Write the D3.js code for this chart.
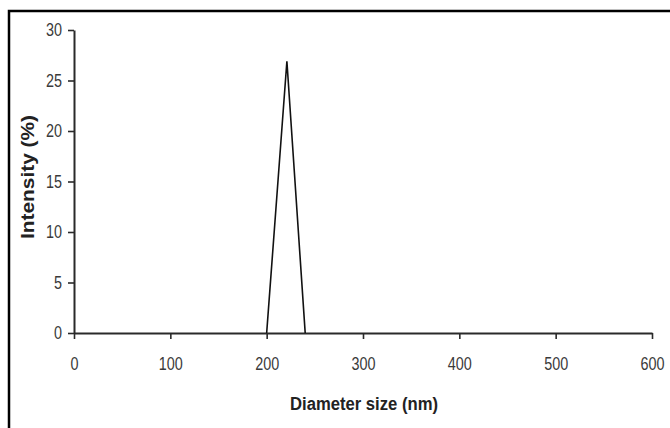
<!DOCTYPE html>
<html><head><meta charset="utf-8">
<script src="https://cdn.jsdelivr.net/npm/d3@7"></script>
<style>body{margin:0;background:#fff}svg{display:block}</style>
</head><body>
<svg id="c" width="670" height="428"></svg>
<script>
const diameter = [200, 221, 240];
const intensity = [0, 26.9, 0];
const xTicks = [0, 100, 200, 300, 400, 500, 600];
const yTicks = [0, 5, 10, 15, 20, 25, 30];
const xTitle = "Diameter size (nm)";
const yTitle = "Intensity (%)";

const svg = d3.select("#c");
const x = d3.scaleLinear().domain([0, 600]).range([74, 652]);
const y = d3.scaleLinear().domain([0, 30]).range([333, 30]);
const font = "'Liberation Sans', Arial, sans-serif";
const ink = "#2a2a2a";

// frame (left and top edges)
svg.append("path").attr("d", "M9,428 V11 H670").attr("fill", "none")
  .attr("stroke", "#000").attr("stroke-width", 2.5);

const xa = svg.append("g").attr("transform", "translate(0,333)")
  .call(d3.axisBottom(x).tickValues(xTicks).tickSize(6).tickPadding(18).tickSizeOuter(0));
const ya = svg.append("g").attr("transform", "translate(74,0)")
  .call(d3.axisLeft(y).tickValues(yTicks).tickSize(6).tickPadding(6).tickSizeOuter(0));
[xa, ya].forEach(g => {
  g.attr("font-size", null);
  g.select(".domain").attr("stroke", ink).attr("stroke-width", 2);
  g.selectAll(".tick line").attr("stroke", ink).attr("stroke-width", 1.6);
  g.selectAll(".tick text").attr("fill", "#3a3a3a").attr("font-family", font)
    .style("font-size", "18px");
  g.selectAll(".tick text").each(function(){
    const t = d3.select(this);
    t.attr("textLength", t.text().length * 8).attr("lengthAdjust", "spacingAndGlyphs");
  });
});

const pts = diameter.map((d, i) => [d, intensity[i]]);
svg.append("path").datum(pts)
  .attr("d", d3.line().x(d => x(d[0])).y(d => y(d[1])))
  .attr("fill", "none").attr("stroke", "#111").attr("stroke-width", 1.6);

svg.append("text").attr("x", 364).attr("y", 410).attr("text-anchor", "middle")
  .attr("font-family", font).attr("font-weight", "bold").style("font-size", "18px")
  .attr("fill", "#222").attr("textLength", 148).attr("lengthAdjust", "spacingAndGlyphs")
  .text(xTitle);
svg.append("text").attr("transform", "translate(34,177) rotate(-90)")
  .attr("text-anchor", "middle")
  .attr("font-family", font).attr("font-weight", "bold").style("font-size", "18px")
  .attr("fill", "#222").attr("textLength", 124).attr("lengthAdjust", "spacingAndGlyphs")
  .text(yTitle);
</script>
</body></html>
